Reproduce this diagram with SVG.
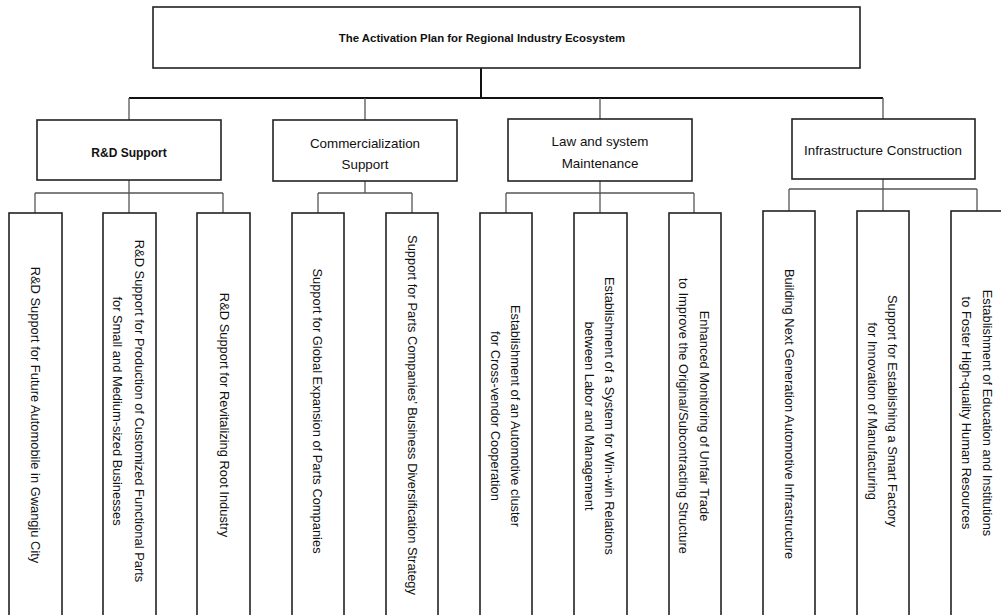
<svg xmlns="http://www.w3.org/2000/svg" width="1001" height="615" viewBox="0 0 1001 615">
<style>
.box{fill:#fff;stroke:#222;stroke-width:1.6}
.leaf{fill:#fff;stroke:#222;stroke-width:1.6}
.t{font-family:"Liberation Sans",Arial,sans-serif;fill:#111;text-anchor:middle;dominant-baseline:central}
.mid{font-size:13.4px}
.lt{font-size:12.9px}
.bus{stroke:#111;stroke-width:2;fill:none}
.sub{stroke:#555;stroke-width:1.3;fill:none}
</style>
<rect width="1001" height="615" fill="#fff"/>
<g id="connectors">
  <line class="bus" x1="481" y1="68" x2="481" y2="98" stroke-width="3" stroke="#333"/>
  <line class="bus" x1="129" y1="98" x2="883" y2="98"/>
  <line class="sub" x1="129" y1="98" x2="129" y2="120"/>
  <line class="sub" x1="365" y1="98" x2="365" y2="120"/>
  <line class="sub" x1="600" y1="98" x2="600" y2="119"/>
  <line class="sub" x1="883" y1="98" x2="883" y2="119"/>
  <line class="sub" x1="129" y1="180" x2="129" y2="193"/>
  <line class="sub" x1="35" y1="193" x2="223" y2="193"/>
  <line class="sub" x1="35" y1="193" x2="35" y2="213"/>
  <line class="sub" x1="129" y1="193" x2="129" y2="213"/>
  <line class="sub" x1="223" y1="193" x2="223" y2="213"/>
  <line class="sub" x1="365" y1="181" x2="365" y2="193"/>
  <line class="sub" x1="318" y1="193" x2="412" y2="193"/>
  <line class="sub" x1="318" y1="193" x2="318" y2="213"/>
  <line class="sub" x1="412" y1="193" x2="412" y2="213"/>
  <line class="sub" x1="600" y1="181" x2="600" y2="193"/>
  <line class="sub" x1="506" y1="193" x2="694" y2="193"/>
  <line class="sub" x1="506" y1="193" x2="506" y2="213"/>
  <line class="sub" x1="600" y1="193" x2="600" y2="213"/>
  <line class="sub" x1="694" y1="193" x2="694" y2="213"/>
  <line class="sub" x1="883" y1="179" x2="883" y2="189"/>
  <line class="sub" x1="789" y1="189" x2="977" y2="189"/>
  <line class="sub" x1="789" y1="189" x2="789" y2="211"/>
  <line class="sub" x1="883" y1="189" x2="883" y2="211"/>
  <line class="sub" x1="977" y1="189" x2="977" y2="211"/>
</g>
<g id="root">
  <rect class="box" x="153" y="7" width="707" height="61" stroke-width="2"/>
  <text class="t" x="482" y="38" font-size="11.4" font-weight="bold">The Activation Plan for Regional Industry Ecosystem</text>
</g>
<g id="rd">
  <rect class="box" x="37" y="120" width="184" height="60"/>
  <text class="t" x="129" y="153" font-weight="bold" font-size="12">R&amp;D Support</text>
</g>
<g id="comm">
  <rect class="box" x="273" y="120" width="184" height="61"/>
  <text class="t mid" x="365" y="143">Commercialization</text>
  <text class="t mid" x="365" y="164">Support</text>
</g>
<g id="law">
  <rect class="box" x="508" y="119" width="184" height="62"/>
  <text class="t mid" x="600" y="141">Law and system</text>
  <text class="t mid" x="600" y="163">Maintenance</text>
</g>
<g id="infra">
  <rect class="box" x="792" y="119" width="183" height="60"/>
  <text class="t mid" x="883" y="150">Infrastructure Construction</text>
</g>
<g id="leaf1">
  <rect class="leaf" x="9" y="213" width="53" height="420"/>
  <text class="t lt" transform="translate(35,415) rotate(90)">R&amp;D Support for Future Automobile in Gwangju City</text>
</g>
<g id="leaf2">
  <rect class="leaf" x="103" y="213" width="53" height="420"/>
  <text class="t lt" transform="translate(129,411) rotate(90)"><tspan x="0" y="-11">R&amp;D Support for Production of Customized Functional Parts</tspan><tspan x="0" y="11">for Small and Medium-sized Businesses</tspan></text>
</g>
<g id="leaf3">
  <rect class="leaf" x="197" y="213" width="53" height="420"/>
  <text class="t lt" transform="translate(224,415) rotate(90)">R&amp;D Support for Revitalizing Root Industry</text>
</g>
<g id="leaf4">
  <rect class="leaf" x="292" y="213" width="52" height="420"/>
  <text class="t lt" transform="translate(317,411) rotate(90)">Support for Global Expansion of Parts Companies</text>
</g>
<g id="leaf5">
  <rect class="leaf" x="386" y="213" width="52" height="420"/>
  <text class="t lt" transform="translate(412,415) rotate(90)">Support for Parts Companies’ Business Diversification Strategy</text>
</g>
<g id="leaf6">
  <rect class="leaf" x="480" y="213" width="52" height="420"/>
  <text class="t lt" transform="translate(506,416) rotate(90)"><tspan x="0" y="-10">Establishment of an Automotive cluster</tspan><tspan x="0" y="10">for Cross-vendor Cooperation</tspan></text>
</g>
<g id="leaf7">
  <rect class="leaf" x="574" y="213" width="53" height="420"/>
  <text class="t lt" transform="translate(600,416) rotate(90)"><tspan x="0" y="-10">Establishment of a System for Win-win Relations</tspan><tspan x="0" y="10">between Labor and Management</tspan></text>
</g>
<g id="leaf8">
  <rect class="leaf" x="669" y="213" width="52" height="420"/>
  <text class="t lt" transform="translate(694,416) rotate(90)"><tspan x="0" y="-10.5">Enhanced Monitoring of Unfair Trade</tspan><tspan x="0" y="10.5">to Improve the Original/Subcontracting Structure</tspan></text>
</g>
<g id="leaf9">
  <rect class="leaf" x="763" y="211" width="52" height="420"/>
  <text class="t lt" transform="translate(789,414) rotate(90)">Building Next Generation Automotive Infrastructure</text>
</g>
<g id="leaf10">
  <rect class="leaf" x="857" y="211" width="52" height="420"/>
  <text class="t lt" transform="translate(883,411) rotate(90)"><tspan x="0" y="-10">Support for Establishing a Smart Factory</tspan><tspan x="0" y="10">for Innovation of Manufacturing</tspan></text>
</g>
<g id="leaf11">
  <rect class="leaf" x="951" y="211" width="53" height="420"/>
  <text class="t lt" transform="translate(977,413) rotate(90)"><tspan x="0" y="-10.5">Establishment of Education and Institutions</tspan><tspan x="0" y="10.5">to Foster High-quality Human Resources</tspan></text>
</g>
</svg>
